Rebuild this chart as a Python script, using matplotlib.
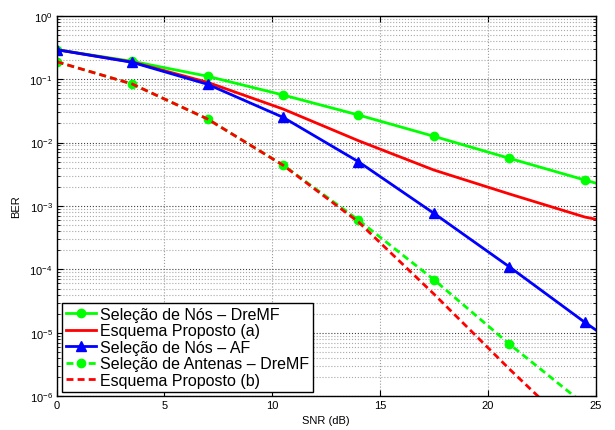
import matplotlib
matplotlib.use("Agg")
import matplotlib.pyplot as plt
from matplotlib.ticker import LogLocator, NullFormatter, FixedLocator, LogFormatterSciNotation

plt.rcParams['font.family'] = ['Liberation Sans', 'DejaVu Sans']

snr = [0, 3.5, 7, 10.5, 14, 17.5, 21, 24.5, 25]

ber_nos_dremf = [0.291, 0.191, 0.111, 0.0562, 0.0272, 0.01255, 0.00565, 0.00257, 0.0023]
ber_prop_a = [0.291, 0.186, 0.089, 0.0338, 0.0107, 0.00369, 0.00155, 0.00067, 0.00062]
ber_nos_af = [0.291, 0.184, 0.0829, 0.025, 0.00499, 7.67e-4, 1.10e-4, 1.47e-5, 1.12e-5]
ber_ant_dremf = [0.188, 0.0838, 0.0235, 0.00443, 6.0e-4, 6.9e-5, 6.67e-6, 7.4e-7, 5.4e-7]
ber_prop_b = [0.188, 0.0838, 0.0235, 0.0044, 5.6e-4, 4.1e-5, 2.7e-6, 2.0e-7, 1.5e-7]

labels = ['Seleção de Nós – DreMF', 'Esquema Proposto (a)', 'Seleção de Nós – AF',
          'Seleção de Antenas – DreMF', 'Esquema Proposto (b)']
x_ticks = [0, 5, 10, 15, 20, 25]
y_ticks = [1e-6, 1e-5, 1e-4, 1e-3, 1e-2, 1e-1, 1e0]

fig = plt.figure(figsize=(6.15, 4.31), dpi=100)
ax = fig.add_axes([0.0922, 0.0782, 0.8761, 0.8831])

lw = 2.0
mk = list(range(8))
dash = (2.5, 1.5)
ax.semilogy(snr, ber_nos_dremf, '-', color='#00ff00', lw=lw, marker='o', ms=6,
            markevery=mk, label=labels[0])
ax.semilogy(snr, ber_prop_a, '-', color='#ff0000', lw=lw, label=labels[1])
ax.semilogy(snr, ber_nos_af, '-', color='#0000ff', lw=lw, marker='^', ms=7,
            markevery=mk, label=labels[2])
ax.semilogy(snr, ber_ant_dremf, '--', dashes=dash, color='#00ff00', lw=lw, marker='o', ms=6,
            markevery=mk, label=labels[3])
ax.semilogy(snr, ber_prop_b, '--', dashes=dash, color='#ff0000', lw=lw, label=labels[4])

ax.set_xlim(0, 25)
ax.set_ylim(1e-6, 1)
ax.xaxis.set_major_locator(FixedLocator(x_ticks))
ax.set_xticklabels([str(t) for t in x_ticks])
ax.yaxis.set_major_locator(FixedLocator(y_ticks))
ax.yaxis.set_major_formatter(LogFormatterSciNotation())
ax.yaxis.set_minor_locator(LogLocator(base=10, subs=range(2, 10), numticks=100))
ax.yaxis.set_minor_formatter(NullFormatter())

ax.grid(True, which='major', axis='x', linestyle=':', color='#9a9a9a', lw=0.8)
ax.grid(True, which='major', axis='y', linestyle=':', color='#404040', lw=0.8)
ax.grid(True, which='minor', axis='y', linestyle=':', color='#a8a8a8', lw=0.8)
ax.set_axisbelow(True)

ax.tick_params(which='both', direction='in', top=True, right=True, labelsize=8)
ax.tick_params(which='major', length=4, pad=3)
ax.tick_params(which='minor', length=2)
for s in ax.spines.values():
    s.set_color('black')
    s.set_linewidth(1.0)

ax.set_xlabel('SNR (dB)', fontsize=8, labelpad=3)
ax.set_ylabel('BER', fontsize=8, labelpad=6)

leg = ax.legend(loc='lower left', bbox_to_anchor=(0.0093, 0.0113), borderaxespad=0,
                fontsize=11.5, handlelength=1.9, handletextpad=0.25, labelspacing=0.1,
                borderpad=0.25, fancybox=False, framealpha=1, edgecolor='black')
leg.get_frame().set_linewidth(1.0)

fig.savefig('out.png', dpi=100)
